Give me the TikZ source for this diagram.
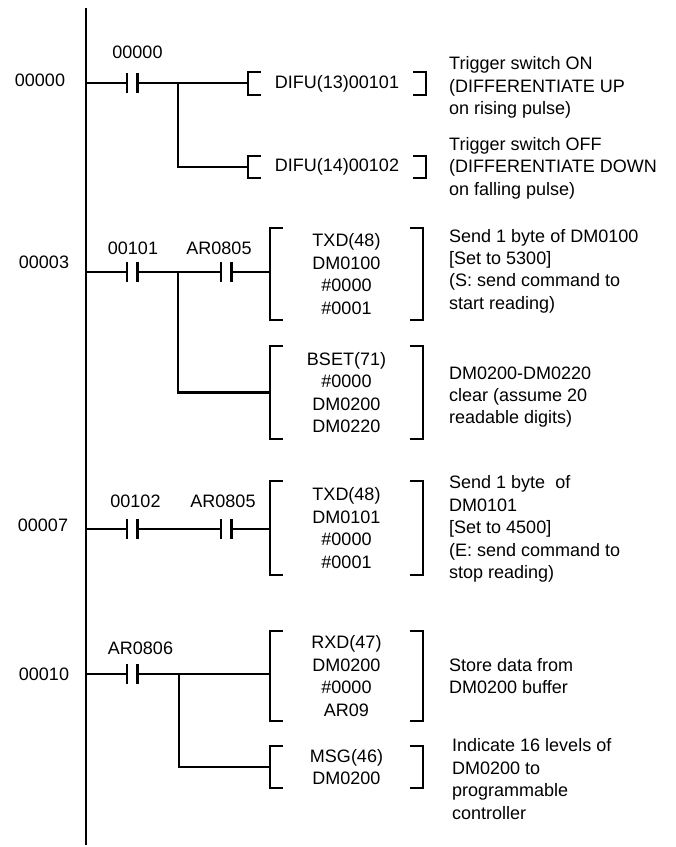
\documentclass[tikz,border=0pt]{standalone}
\usepackage{fontspec}
\setmainfont{Liberation Sans}
\usetikzlibrary{positioning}
\tikzstyle{rail} = [line width=2.4pt]
\tikzstyle{wire} = [line width=2.1pt]
\tikzstyle{plate} = [line width=2.6pt]
\tikzstyle{contact} = [rectangle, inner sep=0pt, minimum width=10pt, minimum height=20pt]
\tikzstyle{instr} = [rectangle, inner sep=0pt, align=center, minimum width=153pt]
\tikzstyle{note} = [anchor=west, align=left, inner sep=0pt]
\tikzstyle{every node}=[font=\fontsize{18}{22.4}\selectfont]

\begin{document}
\begin{tikzpicture}[x=1pt, y=-1pt]
	\useasboundingbox (0,0) rectangle (676,847);
	% power rail
	\coordinate (rail top) at (86,8);
	\coordinate (rail bottom) at (86,845);
	\draw[rail] (rail top) -- (rail bottom);
	
	% rung 00000
	\node (n0) at (40,80) {00000};
	\node[contact] (c0) at (132,83) {};
	\node (l0) at (137.5,52) {00000};
	\node[instr, minimum width=178pt, minimum height=22pt] (difu1) at (337,83.5) {DIFU(13)00101};
	\node[instr, minimum width=178pt, minimum height=21pt] (difu2) at (337,167) {DIFU(14)00102};
	\coordinate (j0) at (178,83);
	\draw[wire] (rail top |- c0) -- (c0.west);
	\draw[wire] (c0.east) -- (c0.east -| difu1.west);
	\draw[wire] (j0) |- (difu2.west);
	\node[note] (t0) at (449,87.5) {Trigger switch ON\\(DIFFERENTIATE UP\\on rising pulse)};
	\node[note] (t1) at (449,168) {Trigger switch OFF\\(DIFFERENTIATE DOWN\\on falling pulse)};
	
	% rung 00003
	\node (n3) at (44,262) {00003};
	\node[contact] (c101) at (132,272) {};
	\node[contact] (c805a) at (226,272) {};
	\node (l101) at (133,248) {00101};
	\node (l805a) at (219,248) {AR0805};
	\node[instr, minimum height=92pt] (txd1) at (346.5,274) {TXD(48)\\DM0100\\\#0000\\\#0001};
	\node[instr, minimum height=93pt] (bset) at (346.5,392.5) {BSET(71)\\\#0000\\DM0200\\DM0220};
	\coordinate (j3) at (178,272);
	\draw[wire] (rail top |- c101) -- (c101.west);
	\draw[wire] (c101.east) -- (c805a.west);
	\draw[wire] (c805a.east) -- (c805a.east -| txd1.west);
	\draw[wire] (j3) |- (bset.west);
	\node[note] (t3) at (449,271) {Send 1 byte of DM0100\\{[}Set to 5300{]}\\(S: send command to\\start reading)};
	\node[note] (t4) at (449,397) {DM0200-DM0220\\clear (assume 20\\readable digits)};
	
	% rung 00007
	\node (n7) at (43,525) {00007};
	\node[contact] (c102) at (132,529) {};
	\node[contact] (c805b) at (226,529) {};
	\node (l102) at (135.5,501) {00102};
	\node (l805b) at (223,501) {AR0805};
	\node[instr, minimum height=93pt] (txd2) at (346.5,528) {TXD(48)\\DM0101\\\#0000\\\#0001};
	\draw[wire] (rail top |- c102) -- (c102.west);
	\draw[wire] (c102.east) -- (c805b.west);
	\draw[wire] (c805b.east) -- (c805b.east -| txd2.west);
	\node[note] (t7) at (449,529) {Send 1 byte\ \ of\\DM0101\\{[}Set to 4500{]}\\(E: send command to\\stop reading)};
	
	% rung 00010
	\node (n10) at (44,674) {00010};
	\node[contact] (c806) at (132,674) {};
	\node (l806) at (140.5,648) {AR0806};
	\node[instr, minimum height=90pt] (rxd) at (346.5,676) {RXD(47)\\DM0200\\\#0000\\AR09};
	\node[instr, minimum height=42pt] (msg) at (346.5,767) {MSG(46)\\DM0200};
	\coordinate (j10) at (179,674);
	\draw[wire] (rail top |- c806) -- (c806.west);
	\draw[wire] (c806.east) -- (c806.east -| rxd.west);
	\draw[wire] (j10) |- (msg.west);
	\node[note] (t8) at (449,676) {Store data from\\DM0200 buffer};
	\node[note] (t10) at (452,779) {Indicate 16 levels of\\DM0200 to\\programmable\\controller};
	
	% contacts and brackets
	\foreach \c in {c0,c101,c805a,c102,c805b,c806}
		\draw[plate] (\c.north west) -- (\c.south west) (\c.north east) -- (\c.south east);
	\foreach \b in {difu1,difu2,txd1,bset,txd2,rxd,msg} {
		\draw[wire] ([xshift=13pt]\b.north west) -- (\b.north west) -- (\b.south west) -- ([xshift=13pt]\b.south west);
		\draw[wire] ([xshift=-13pt]\b.north east) -- (\b.north east) -- (\b.south east) -- ([xshift=-13pt]\b.south east);
	}
\end{tikzpicture}
\end{document}
